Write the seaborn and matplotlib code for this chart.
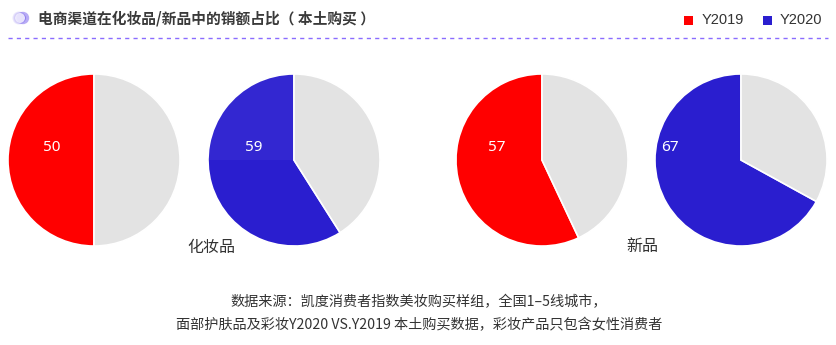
import numpy as np
import matplotlib
matplotlib.use("Agg")
import matplotlib.pyplot as plt
import seaborn as sns
from matplotlib.patches import Wedge, Circle, Rectangle
from matplotlib.lines import Line2D

sns.set_theme(style="white")
plt.rcParams["font.family"] = ["Noto Sans CJK SC", "DejaVu Sans"]

# data
title = "电商渠道在化妆品/新品中的销额占比（ 本土购买 ）"
series_names = ["Y2019", "Y2020"]
categories = ["化妆品", "新品"]
values_2019 = [50, 57]
values_2020 = [59, 67]
footnote = ["数据来源：凯度消费者指数美妆购买样组，全国1–5线城市，",
            "面部护肤品及彩妆Y2020 VS.Y2019 本土购买数据，彩妆产品只包含女性消费者"]

RED = "#ff0000"
BLUE = "#2a1ecf"
GREY = "#e3e3e3"
TXT = "#333333"

W, H = 837, 345
fig = plt.figure(figsize=(W / 100, H / 100), dpi=100)
fig.patch.set_facecolor("white")


def px_axes(cx, cy, r):
    """Axes spanning a square of radius r px around pixel centre (cx, cy)."""
    return fig.add_axes([(cx - r) / W, (H - cy - r) / H, 2 * r / W, 2 * r / H])


# pie centres (pixels) and per-pie label offsets in radius units
centres = [(94, 160), (294, 160), (542, 160), (741, 160)]
label_offsets = [(-0.49, 0.15), (-0.47, 0.15), (-0.53, 0.15), (-0.83, 0.15)]
pie_values = [values_2019[0], values_2020[0], values_2019[1], values_2020[1]]
pie_colors = [RED, BLUE, RED, BLUE]
R = 86

for i, ((cx, cy), v, c, off) in enumerate(zip(centres, pie_values, pie_colors, label_offsets)):
    ax = px_axes(cx, cy, R + 2)
    ax.pie([v, 100 - v], colors=[c, GREY], startangle=90, counterclock=True,
           radius=1.0, wedgeprops=dict(edgecolor="white", linewidth=1.2))
    ax.set_xlim(-1.023, 1.023)
    ax.set_ylim(-1.023, 1.023)
    if i == 1:
        # hover highlight on the upper-left quadrant
        ax.add_patch(Wedge((0, 0), 1.0, 90, 180, facecolor="white", alpha=0.045, linewidth=0))
    ax.text(off[0], off[1], f"{v}", color="white", fontsize=11,
            ha="center", va="center", family=["Noto Sans", "DejaVu Sans"])
    ax.axis("off")

# category captions
fig.text(211 / W, 1 - 247 / H, categories[0], fontsize=11.5, color=TXT, ha="center", va="center")
fig.text(642 / W, 1 - 247 / H, categories[1], fontsize=11.5, color=TXT, ha="center", va="center")

# header: icon, title, legend, dashed rule
hax = fig.add_axes([0, 0, 1, 1])
hax.set_xlim(0, W)
hax.set_ylim(H, 0)
hax.axis("off")
hax.patch.set_alpha(0)
for k in range(8):
    hax.add_patch(Circle((19 + k * 0.6, 18), 6.5 - k * 0.5, color="#8f7cf0", alpha=0.18, lw=0))
hax.add_patch(Circle((23, 18), 6.2, color="#7d67ee", alpha=0.55, lw=0))
hax.add_patch(Circle((20, 18), 5.0, color="#f1eefe", alpha=0.9, lw=0))
hax.text(38, 18, title, fontsize=10.6, fontweight="bold", color="#3a3a3a", va="center", ha="left")
hax.add_line(Line2D([8, 828], [38, 38], color="#8a6cff", lw=1, linestyle=(0, (3, 3))))

hax.add_patch(Rectangle((684, 16), 9, 9, color=RED, lw=0))
hax.text(702, 20.5, series_names[0], fontsize=10.5, color=TXT, va="center", ha="left",
         family=["Liberation Sans", "DejaVu Sans"])
hax.add_patch(Rectangle((763, 16), 9, 9, color=BLUE, lw=0))
hax.text(780, 20.5, series_names[1], fontsize=10.5, color=TXT, va="center", ha="left",
         family=["Liberation Sans", "DejaVu Sans"])

# footnote
hax.text(419, 302, footnote[0], fontsize=10.2, color=TXT, ha="center", va="center")
hax.text(419, 325, footnote[1], fontsize=10.2, color=TXT, ha="center", va="center")

fig.savefig("out.png", dpi=100, facecolor="white")
